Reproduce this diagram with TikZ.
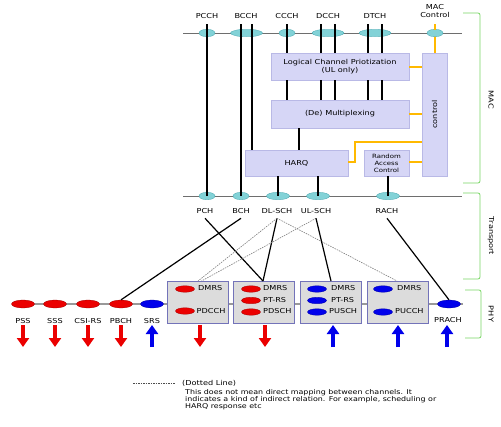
\documentclass[tikz,border=0pt]{standalone}
\usepackage{fontspec}
\setmainfont{DejaVu Sans}[FakeStretch=1.2]
\usetikzlibrary{shapes.geometric,arrows.meta,shadows}
\definecolor{teal1}{RGB}{130,210,215}
\definecolor{teal2}{RGB}{70,165,175}
\definecolor{lav}{RGB}{214,214,246}
\definecolor{lavd}{RGB}{185,185,230}
\definecolor{phyfill}{RGB}{220,220,220}
\definecolor{phydraw}{RGB}{115,115,185}
\definecolor{orng}{RGB}{255,185,0}
\definecolor{brk}{RGB}{120,215,100}
\definecolor{rd}{RGB}{235,0,0}
\definecolor{bl}{RGB}{0,0,235}
\definecolor{gl}{RGB}{110,110,110}
\tikzset{
  lbl/.style={font=\fontsize{6.8}{7.6}\selectfont, inner sep=0pt, align=center},
  tch/.style={ellipse, fill=teal1, draw=teal2, line width=0.3pt, minimum height=7.5pt, inner sep=0pt},
  rch/.style={ellipse, fill=rd, draw=rd!70!black, line width=0.3pt, minimum width=23pt, minimum height=8pt, inner sep=0pt},
  bch/.style={ellipse, fill=bl, draw=bl!70!black, line width=0.3pt, minimum width=23pt, minimum height=8pt, inner sep=0pt},
  rsm/.style={rch, minimum width=19pt, minimum height=6.5pt},
  bsm/.style={bch, minimum width=19pt, minimum height=6.5pt},
  macbox/.style={fill=lav, draw=lavd, line width=0.4pt, drop shadow={shadow xshift=1.2pt, shadow yshift=-1.2pt, opacity=0.35}},
  phybox/.style={fill=phyfill, draw=phydraw, line width=0.8pt},
  conn/.style={line width=1.2pt, black},
  dconn/.style={line width=0.6pt, gray, dash pattern=on 1.5pt off 1pt},
  ctl/.style={line width=1.3pt, orng},
  bus/.style={line width=0.8pt, gl},
  physbus/.style={line width=1.4pt, gray!80},
  brkt/.style={line width=0.8pt, brk, rounded corners=2pt},
  downarr/.style={line width=3.5pt, rd, -{Triangle[width=12pt,length=9pt]}},
  uparr/.style={line width=3.5pt, bl, -{Triangle[width=12pt,length=9pt]}},
  txt/.style={font=\fontsize{6.8}{7.6}\selectfont, inner sep=0pt, anchor=west},
}
\begin{document}
\begin{tikzpicture}[x=1pt,y=-1pt]
\useasboundingbox[fill=white] (0,0) rectangle (501,426);

% ---------------- MAC layer ----------------
\draw[bus] (183,33) coordinate (tl) -- (462,33) coordinate (tr);
% boxes
\draw[macbox] (271,53) rectangle (409,80);
\node[lbl] (lcp) at (340,66.5) {Logical Channel Priotization\\(UL only)};
\draw[macbox] (271,100) rectangle (409,128);
\node[lbl] (mux) at (340,114) {(De) Multiplexing};
\draw[macbox] (245,150) rectangle (348,176);
\node[lbl] (harq) at (296.5,163) {HARQ};
\draw[macbox] (364,150) rectangle (409,176);
\node[lbl, font=\fontsize{5.8}{7}\selectfont] (rac) at (386.5,163) {Random\\Access\\Control};
\draw[macbox] (422,53) rectangle (447,176);
\node[lbl, rotate=90] (ctrl) at (434.5,114.5) {control};

% vertical connectors (drawn before channel ellipses)
\coordinate (pcchT) at (207,24); \coordinate (pchC) at (207,196);
\coordinate (bcch1T) at (241,24); \coordinate (bchC) at (241,196);
\coordinate (bcch2T) at (252,24); \coordinate (harqT2) at (252,150);
\draw[conn] (pcchT) -- (pchC);
\draw[conn] (bcch1T) -- (bchC);
\draw[conn] (bcch2T) -- (harqT2);
\foreach \x in {287,321,335,368,382}{
  \draw[conn] (\x,24) -- (\x,53);
  \draw[conn] (\x,80) -- (\x,100);
}
\draw[conn] (299,128) -- (299,150);
\draw[conn] (278,176) -- (278,196);
\draw[conn] (318,176) -- (318,196);
\draw[conn] (388,176) -- (388,196);

% control (orange) lines
\coordinate (macT) at (435,33); \coordinate (ctrlT) at (435,53);
\draw[ctl] (macT) -- (ctrlT);
\draw[ctl] (409,67) -- (422,67);
\draw[ctl] (409,114) -- (422,114);
\draw[ctl] (348,162) -- (355,162) -- (355,142) -- (422,142);
\draw[ctl] (409,162) -- (422,162);

% logical channels
\node[tch, minimum width=16pt] (pcch) at (207,33) {};
\node[tch, minimum width=32pt] (bcch) at (246.5,33) {};
\node[tch, minimum width=16pt] (ccch) at (287,33) {};
\node[tch, minimum width=32pt] (dcch) at (328,33) {};
\node[tch, minimum width=32pt] (dtch) at (375,33) {};
\node[tch, minimum width=16pt] (macc) at (435,33) {};
\draw[conn] (pcchT) -- (207,37);
\draw[conn] (bcch1T) -- (241,37);
\draw[conn] (bcch2T) -- (252,37);
\foreach \x in {287,321,335,368,382}{ \draw[conn] (\x,24) -- (\x,37); }
\draw[ctl] (435,24) -- (435,29.5);
\draw[ctl] (435,36.5) -- (435,53);
\node[lbl] (lpcch) at (207,16) {PCCH};
\node[lbl] (lbcch) at (246,16) {BCCH};
\node[lbl] (lccch) at (287,16) {CCCH};
\node[lbl] (ldcch) at (328,16.5) {DCCH};
\node[lbl] (ldtch) at (375,16.5) {DTCH};
\node[lbl] (lmacc) at (435,11) {MAC\\Control};

% ---------------- Transport ----------------
\draw[bus] (183,196) -- (462,196);
\node[tch, minimum width=16pt] (pch) at (207,196) {};
\node[tch, minimum width=16pt] (bch) at (241,196) {};
\node[tch, minimum width=23pt] (dlsch) at (278,196) {};
\node[tch, minimum width=23pt] (ulsch) at (318,196) {};
\node[tch, minimum width=23pt] (rach) at (388,196) {};
\draw[conn] (207,189) -- (207,196);
\draw[conn] (241,189) -- (241,196);
\draw[conn] (278,189) -- (278,196);
\draw[conn] (318,189) -- (318,196);
\draw[conn] (388,189) -- (388,196);
\node[lbl] (lpch) at (205,211) {PCH};
\node[lbl] (lbch) at (241,211) {BCH};
\node[lbl] (ldlsch) at (277,211) {DL-SCH};
\node[lbl] (lulsch) at (316,211) {UL-SCH};
\node[lbl] (lrach) at (387,211) {RACH};

% ---------------- PHY ----------------
\draw[physbus] (12,304) -- (463,304);
\draw[phybox] (167,281) rectangle (228,323);
\draw[phybox] (233,281) rectangle (294,323);
\draw[phybox] (300,281) rectangle (361,323);
\draw[phybox] (367,281) rectangle (428,323);
\coordinate (b1a) at (198,281); \coordinate (b1b) at (201.5,281);
\coordinate (b2) at (263,281);
\coordinate (b3) at (331,281); \coordinate (b4) at (397,281);

\node[rch] (pss) at (23,304) {};
\node[rch] (sss) at (55,304) {};
\node[rch] (csirs) at (88,304) {};
\node[rch] (pbch) at (121,304) {};
\node[bch] (srs) at (152,304) {};
\node[bch] (prach) at (449,304) {};
\node[lbl] (lpss) at (23,321) {PSS};
\node[lbl] (lsss) at (55,321) {SSS};
\node[lbl] (lcsirs) at (88,321) {CSI-RS};
\node[lbl] (lpbch) at (121,321) {PBCH};
\node[lbl] (lsrs) at (152,321) {SRS};
\node[lbl] (lprach) at (448,320) {PRACH};

% box contents
\node[rsm] (e11) at (185,289) {}; \node[txt] (t11) at (198,288.5) {DMRS};
\node[rsm] (e12) at (185,311) {}; \node[txt] (t12) at (196.5,311) {PDCCH};
\node[rsm] (e21) at (251,289) {}; \node[txt] (t21) at (263,288.5) {DMRS};
\node[rsm] (e22) at (251,300.5) {}; \node[txt] (t22) at (263,300) {PT-RS};
\node[rsm] (e23) at (251,312) {}; \node[txt] (t23) at (263,311.5) {PDSCH};
\node[bsm] (e31) at (317,289) {}; \node[txt] (t31) at (331,288.5) {DMRS};
\node[bsm] (e32) at (317,300.5) {}; \node[txt] (t32) at (331,300) {PT-RS};
\node[bsm] (e33) at (317,312) {}; \node[txt] (t33) at (329,311.5) {PUSCH};
\node[bsm] (e41) at (383,289) {}; \node[txt] (t41) at (397,288.5) {DMRS};
\node[bsm] (e42) at (383,312) {}; \node[txt] (t42) at (395,311.5) {PUCCH};

% transport -> phy connectors
\draw[conn] ([yshift=-4.5pt]lpch.south) -- (b2);
\draw[conn] ([yshift=-4.5pt]lbch.south) -- (pbch.north);
\draw[conn] ([yshift=-4.5pt]ldlsch.south) -- (b2);
\draw[dconn] ([yshift=-4.5pt]ldlsch.south) -- (b1a);
\draw[dconn] ([yshift=-4.5pt]ldlsch.south) -- (b4);
\draw[dconn] ([yshift=-4.5pt]lulsch.south) -- (b1b);
\draw[conn] ([yshift=-4.5pt]lulsch.south) -- (b3);
\draw[conn] ([yshift=-4.5pt]lrach.south) -- (prach.north);

% arrows
\foreach \x in {23,55,88,121,200,265}{ \draw[downarr] (\x,325) -- (\x,347); }
\foreach \x in {152,333,398,447}{ \draw[uparr] (\x,347) -- (\x,325); }

% brackets
\draw[brkt] (463,13) -- (480,13) -- (480,183) -- (463,183);
\node[lbl, rotate=-90] (lmac) at (491,100) {MAC};
\draw[brkt] (463,193) -- (480,193) -- (480,279) -- (463,279);
\node[lbl, rotate=-90] (ltr) at (491,236) {Transport};
\draw[brkt] (465,290) -- (481,290) -- (481,338) -- (465,338);
\node[lbl, rotate=-90] (lphy) at (491,314) {PHY};

% legend
\coordinate (lg1) at (133,383); \coordinate (lg2) at (175,383);
\draw[dconn, black!70] (lg1) -- (lg2);
\node[txt] (lgt) at (182,383) {(Dotted Line)};
\node[txt, anchor=north west, align=left, font=\fontsize{6.6}{6.7}\selectfont] (lgd) at (185,389.5) {This does not mean direct mapping between channels. It\\indicates a kind of indirect relation. For example, scheduling or\\HARQ response etc};
\end{tikzpicture}
\end{document}
